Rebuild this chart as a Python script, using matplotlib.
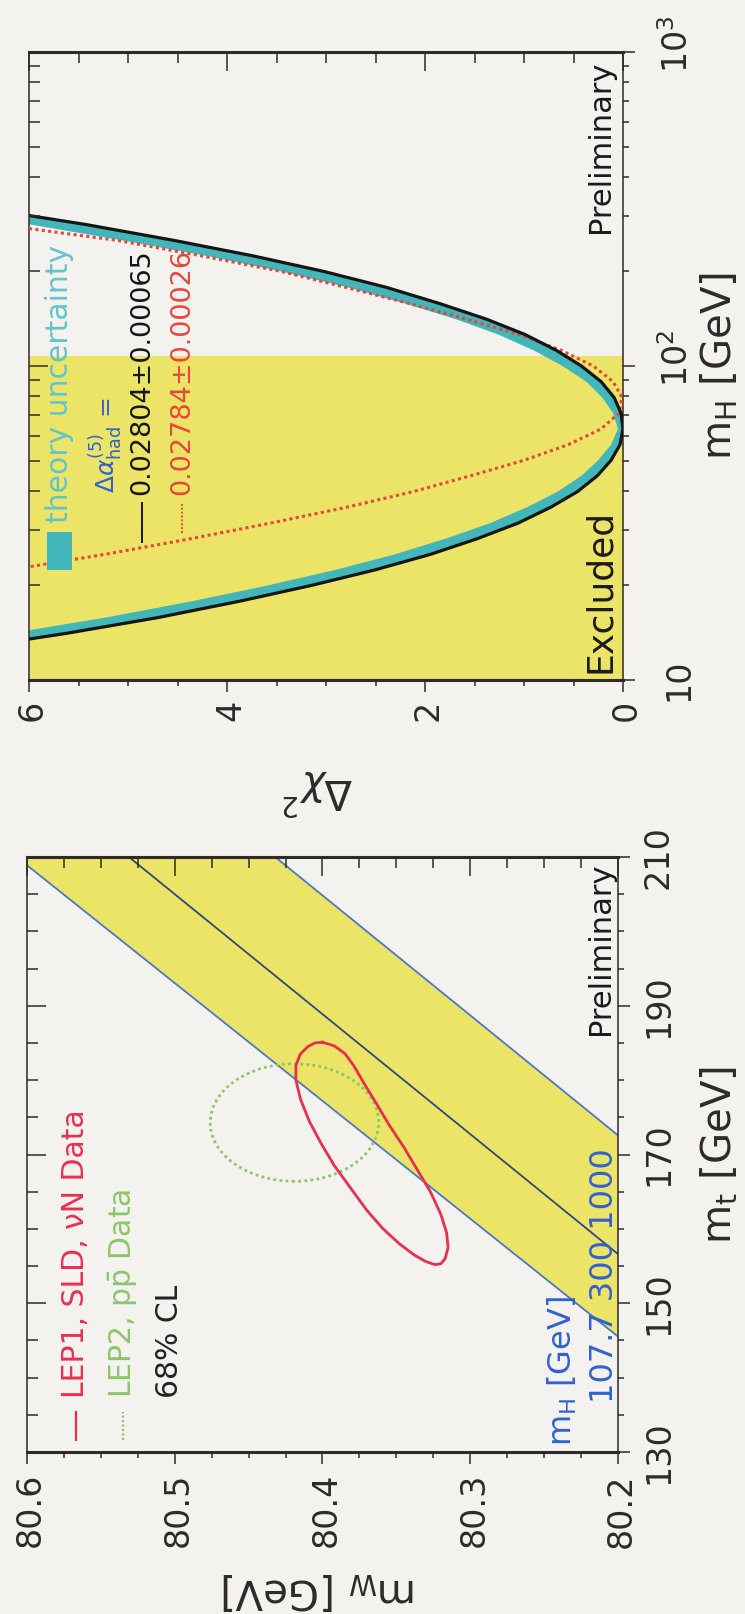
import matplotlib
matplotlib.use("Agg")
import matplotlib.pyplot as plt
import matplotlib.transforms as mtransforms
from matplotlib.patches import Ellipse, Rectangle
from matplotlib.ticker import MultipleLocator, LogLocator, NullFormatter

# ---------------- data ----------------
# upper panel: Delta chi^2 vs m_H
mh_black = [11.2, 12.6, 14.1, 15.8, 17.8, 20.0, 22.4, 25.1, 28.2, 31.6, 35.5, 39.8, 44.7, 50.1, 56.2, 63.1,
            70.8, 79.4, 89.1, 100, 112, 126, 141, 158, 178, 200, 224, 251, 282, 316, 355]
chi2_black = [7.72, 6.62, 5.61, 4.70, 3.88, 3.15, 2.51, 1.95, 1.47, 1.06, 0.73, 0.46, 0.26, 0.12, 0.03, 0.00,
              0.02, 0.09, 0.22, 0.42, 0.67, 0.99, 1.38, 1.85, 2.39, 3.02, 3.73, 4.53, 5.42, 6.41, 7.49]
chi2_theory_hi = [8.38, 7.24, 6.18, 5.23, 4.36, 3.59, 2.91, 2.31, 1.79, 1.34, 0.97, 0.66, 0.42, 0.25, 0.12, 0.05,
                  0.10, 0.21, 0.37, 0.61, 0.90, 1.26, 1.69, 2.20, 2.78, 3.45, 4.20, 5.05, 5.98, 7.02, 8.14]
mh_red = [20.0, 22.4, 25.1, 28.2, 31.6, 35.5, 39.8, 44.7, 50.1, 56.2, 63.1, 70.8, 79.4, 89.1, 100, 112,
          126, 141, 158, 178, 200, 224, 251, 282, 316]
chi2_red = [7.23, 6.20, 5.24, 4.36, 3.56, 2.79, 2.12, 1.54, 1.00, 0.55, 0.22, 0.04, 0.01, 0.10, 0.30, 0.62,
            1.05, 1.58, 2.15, 2.80, 3.45, 4.25, 5.10, 6.30, 7.50]
mh_excluded = 107.7
chi2_ticks = [6, 4, 2, 0]
mh_ticks = [10, 100, 1000]
mh_ticklabels = ["10", r"10$^{2}$", r"10$^{3}$"]

# lower panel: m_W vs m_t
mt_line = [130, 210]
mw_mh107 = [80.102, 80.607]
mw_mh300 = [80.035, 80.531]
mw_mh1000 = [79.936, 80.432]
red_mt = [185.1, 184.6, 183.6, 182.0, 179.6, 177.0, 174.0, 171.0, 168.0, 165.0, 162.0, 159.5, 157.5, 156.0,
          155.3, 155.2, 155.6, 156.5, 158.0, 160.0, 162.5, 165.5, 168.5, 171.5, 174.5, 177.5, 180.0, 182.0,
          183.5, 184.5, 185.0, 185.1]
red_mw = [80.400, 80.392, 80.385, 80.379, 80.372, 80.364, 80.355, 80.345, 80.336, 80.327, 80.320, 80.316,
          80.315, 80.317, 80.320, 80.324, 80.330, 80.338, 80.348, 80.359, 80.370, 80.381, 80.392, 80.401,
          80.409, 80.415, 80.418, 80.418, 80.415, 80.410, 80.405, 80.400]
green_mt, green_mw = 174.3, 80.419
green_dmt, green_dmw = 7.9, 0.057
mw_ticks = [80.6, 80.5, 80.4, 80.3, 80.2]
mt_ticks = [130, 150, 170, 190, 210]

# ---------------- style ----------------
BG = "#f4f2ef"
YELLOW = "#ece466"
CYAN = "#42b6b9"
RED_DOT = "#e8453a"
RED = "#e8304e"
GREEN = "#8cc66a"
BLUE = "#2f62d0"
BLUE_LINE = "#4a78c8"
BLUE_MID = "#2f4a78"
DARK = "#2e2a2a"

plt.rcParams["font.family"] = ["DejaVu Sans"]
plt.rcParams["mathtext.fontset"] = "dejavusans"

W, H = 745, 1614
fig = plt.figure(figsize=(W / 100, H / 100), dpi=100, facecolor=BG)


def fig_rect(x0, x1, ytop, ybot):
    return [x0 / W, 1 - ybot / H, (x1 - x0) / W, (ybot - ytop) / H]


def style_frame(ax):
    ax.set_facecolor(BG)
    for s in ("top", "bottom"):
        ax.spines[s].set_linewidth(2.2)
        ax.spines[s].set_color(DARK)
    for s in ("left", "right"):
        ax.spines[s].set_linewidth(1.1)
        ax.spines[s].set_color(DARK)
    ax.tick_params(which="both", bottom=True, right=True, top=False, left=False,
                   direction="out", color=DARK, width=1.1,
                   labelbottom=False, labelright=False, labelleft=False, labeltop=False)
    ax.tick_params(which="major", length=8.5)
    ax.tick_params(which="minor", length=4.3)


def inward_overlay(ax, rect):
    ov = fig.add_axes(rect, sharex=ax, sharey=ax)
    ov.patch.set_visible(False)
    for s in ov.spines.values():
        s.set_visible(False)
    ov.tick_params(which="both", bottom=False, right=False, top=True, left=True,
                   direction="in", color=DARK, width=1.1,
                   labelbottom=False, labelright=False, labelleft=False, labeltop=False)
    ov.tick_params(which="major", length=14)
    ov.tick_params(which="minor", length=8)
    return ov


def off(trans, dx=0, dy=0):
    return mtransforms.offset_copy(trans, fig=fig, x=dx, y=dy, units="dots")


# ================= upper panel: Delta chi^2 vs m_H =================
rect1 = fig_rect(29, 623, 52, 680)
ax1 = fig.add_axes(rect1)
ax1.set_yscale("log")
ax1.set_xlim(6, 0)
ax1.set_ylim(10, 1000)
ax1.set_xticks(chi2_ticks)
ax1.xaxis.set_minor_locator(MultipleLocator(0.5))
ax1.yaxis.set_major_locator(LogLocator(base=10, numticks=10))
ax1.yaxis.set_minor_locator(LogLocator(base=10, subs=range(2, 10), numticks=20))
ax1.yaxis.set_minor_formatter(NullFormatter())
style_frame(ax1)
inward_overlay(ax1, rect1)

ax1.axhspan(10, mh_excluded, color=YELLOW, lw=0, zorder=0)
ax1.fill_betweenx(mh_black, chi2_black, chi2_theory_hi, color=CYAN, lw=0, zorder=2)
ax1.plot(chi2_red, mh_red, color=RED_DOT, lw=2.2, ls=(0, (1, 1.1)), zorder=3)
ax1.plot(chi2_black, mh_black, color="#151515", lw=2.3, zorder=4, solid_joinstyle="round")

for v in chi2_ticks:
    ax1.text(v, 0, str(v), transform=off(ax1.get_xaxis_transform(), dy=-20),
             rotation=90, rotation_mode="anchor", ha="right", va="center_baseline",
             fontsize=24, color=DARK)
for v, s in zip(mh_ticks, mh_ticklabels):
    ax1.text(1.0, v, s, transform=off(ax1.get_yaxis_transform(), dx=65, dy=-21),
             rotation=90, rotation_mode="anchor", ha="left", va="baseline",
             fontsize=24, color=DARK)


def f1(x, y):
    return ((x - 29) / 594, (680 - y) / 628)


x0, y0 = f1(47, 570)
x1_, y1_ = f1(72, 532)
ax1.add_patch(Rectangle((x0, y0), x1_ - x0, y1_ - y0, transform=ax1.transAxes,
                        color=CYAN, lw=0, zorder=5))
ax1.text(*f1(60, 523), "theory uncertainty", transform=ax1.transAxes, rotation=90,
         rotation_mode="anchor", ha="left", va="center", fontsize=21.5, color="#62c4ca", zorder=6)
ax1.text(*f1(105, 493), r"$\Delta\alpha^{(5)}_{\rm had}$ =", transform=ax1.transAxes, rotation=90,
         rotation_mode="anchor", ha="left", va="center", fontsize=18, color=BLUE, zorder=6)
xa, ya = f1(142, 542)
xb, yb = f1(142, 503)
ax1.plot([xa, xb], [ya, yb], transform=ax1.transAxes, color="#151515", lw=1.4, zorder=6)
ax1.text(*f1(142, 495), "0.02804±0.00065", transform=ax1.transAxes, rotation=90,
         rotation_mode="anchor", ha="left", va="center", fontsize=19.5, color="#151515", zorder=6)
xa, ya = f1(182, 533)
xb, yb = f1(182, 503)
ax1.plot([xa, xb], [ya, yb], transform=ax1.transAxes, color=RED_DOT, lw=1.4,
         ls=(0, (1, 1)), zorder=6)
ax1.text(*f1(182, 495), "0.02784±0.00026", transform=ax1.transAxes, rotation=90,
         rotation_mode="anchor", ha="left", va="center", fontsize=19.5, color=RED_DOT, zorder=6)
ax1.text(*f1(597, 673), "Excluded", transform=ax1.transAxes, rotation=90,
         rotation_mode="anchor", ha="left", va="center_baseline", fontsize=26, color="#1a1a1a", zorder=6)
ax1.text(*f1(597, 233), "Preliminary", transform=ax1.transAxes, rotation=90,
         rotation_mode="anchor", ha="left", va="center_baseline", fontsize=22, color="#1a1a1a", zorder=6)

fig.text(720 / W, 1 - 366 / H, r"m$_{\rm H}$ [GeV]", rotation=90, ha="center", va="center",
         fontsize=29, color=DARK)
fig.text(318 / W, 1 - 792 / H, r"$\Delta\chi^2$", rotation=180, ha="center", va="center",
         fontsize=29, color=DARK)

# ================= lower panel: m_W vs m_t =================
rect2 = fig_rect(27, 618, 857, 1452)
ax2 = fig.add_axes(rect2)
ax2.set_xlim(80.6, 80.2)
ax2.set_ylim(130, 210)
ax2.set_xticks(mw_ticks)
ax2.xaxis.set_minor_locator(MultipleLocator(0.025))
ax2.set_yticks(mt_ticks)
ax2.yaxis.set_minor_locator(MultipleLocator(5))
style_frame(ax2)
inward_overlay(ax2, rect2)

ax2.fill_betweenx(mt_line, mw_mh1000, mw_mh107, color=YELLOW, lw=0, zorder=0)
ax2.plot(mw_mh107, mt_line, color=BLUE_LINE, lw=1.3, zorder=2)
ax2.plot(mw_mh1000, mt_line, color=BLUE_LINE, lw=1.3, zorder=2)
ax2.plot(mw_mh300, mt_line, color=BLUE_MID, lw=1.3, zorder=2)
ax2.plot(red_mw, red_mt, color=RED, lw=2.0, zorder=4, solid_joinstyle="round")
ax2.add_patch(Ellipse((green_mw, green_mt), 2 * green_dmw, 2 * green_dmt, fill=False,
                      edgecolor=GREEN, lw=2.0, ls=(0, (1, 1.2)), zorder=3))

for v in mw_ticks:
    ax2.text(v, 0, f"{v:.1f}", transform=off(ax2.get_xaxis_transform(), dy=-21),
             rotation=90, rotation_mode="anchor", ha="right", va="center_baseline",
             fontsize=24, color=DARK)
for v in mt_ticks:
    ax2.text(1.0, v, str(v), transform=off(ax2.get_yaxis_transform(), dx=50),
             rotation=90, rotation_mode="anchor", ha="center", va="baseline",
             fontsize=24, color=DARK)


def f2(x, y):
    return ((x - 27) / 591, (1452 - y) / 595)


xa, ya = f2(76, 1440)
xb, yb = f2(76, 1412)
ax2.plot([xa, xb], [ya, yb], transform=ax2.transAxes, color=RED, lw=1.6, zorder=6)
ax2.text(*f2(76, 1398), "LEP1, SLD, νN Data", transform=ax2.transAxes, rotation=90,
         rotation_mode="anchor", ha="left", va="center", fontsize=21.5, color=RED, zorder=6)
xa, ya = f2(123, 1440)
xb, yb = f2(123, 1412)
ax2.plot([xa, xb], [ya, yb], transform=ax2.transAxes, color=GREEN, lw=1.6, ls=(0, (1, 1)), zorder=6)
ax2.text(*f2(123, 1398), r"LEP2, $\mathrm{p\bar{p}}$ Data", transform=ax2.transAxes, rotation=90,
         rotation_mode="anchor", ha="left", va="center", fontsize=21.5, color=GREEN, zorder=6)
ax2.text(*f2(170, 1398), "68% CL", transform=ax2.transAxes, rotation=90,
         rotation_mode="anchor", ha="left", va="center", fontsize=21.5, color="#222222", zorder=6)
ax2.text(*f2(597, 1035), "Preliminary", transform=ax2.transAxes, rotation=90,
         rotation_mode="anchor", ha="left", va="center_baseline", fontsize=22, color="#1a1a1a", zorder=6)
ax2.text(*f2(562, 1446), r"m$_{\rm H}$ [GeV]", transform=ax2.transAxes, rotation=90,
         rotation_mode="anchor", ha="left", va="center", fontsize=23, color=BLUE, zorder=6)
ax2.text(*f2(601, 1403), "107.7 300 1000", transform=ax2.transAxes, rotation=90,
         rotation_mode="anchor", ha="left", va="center_baseline", fontsize=23, color=BLUE, zorder=6)

fig.text(720 / W, 1 - 1155 / H, r"m$_{\rm t}$ [GeV]", rotation=90, ha="center", va="center",
         fontsize=29, color=DARK)
fig.text(320 / W, 1 - 1590 / H, r"m$_{\rm W}$ [GeV]", rotation=180, ha="center", va="center",
         fontsize=29, color=DARK)

fig.savefig("out.png", dpi=100, facecolor=BG)
